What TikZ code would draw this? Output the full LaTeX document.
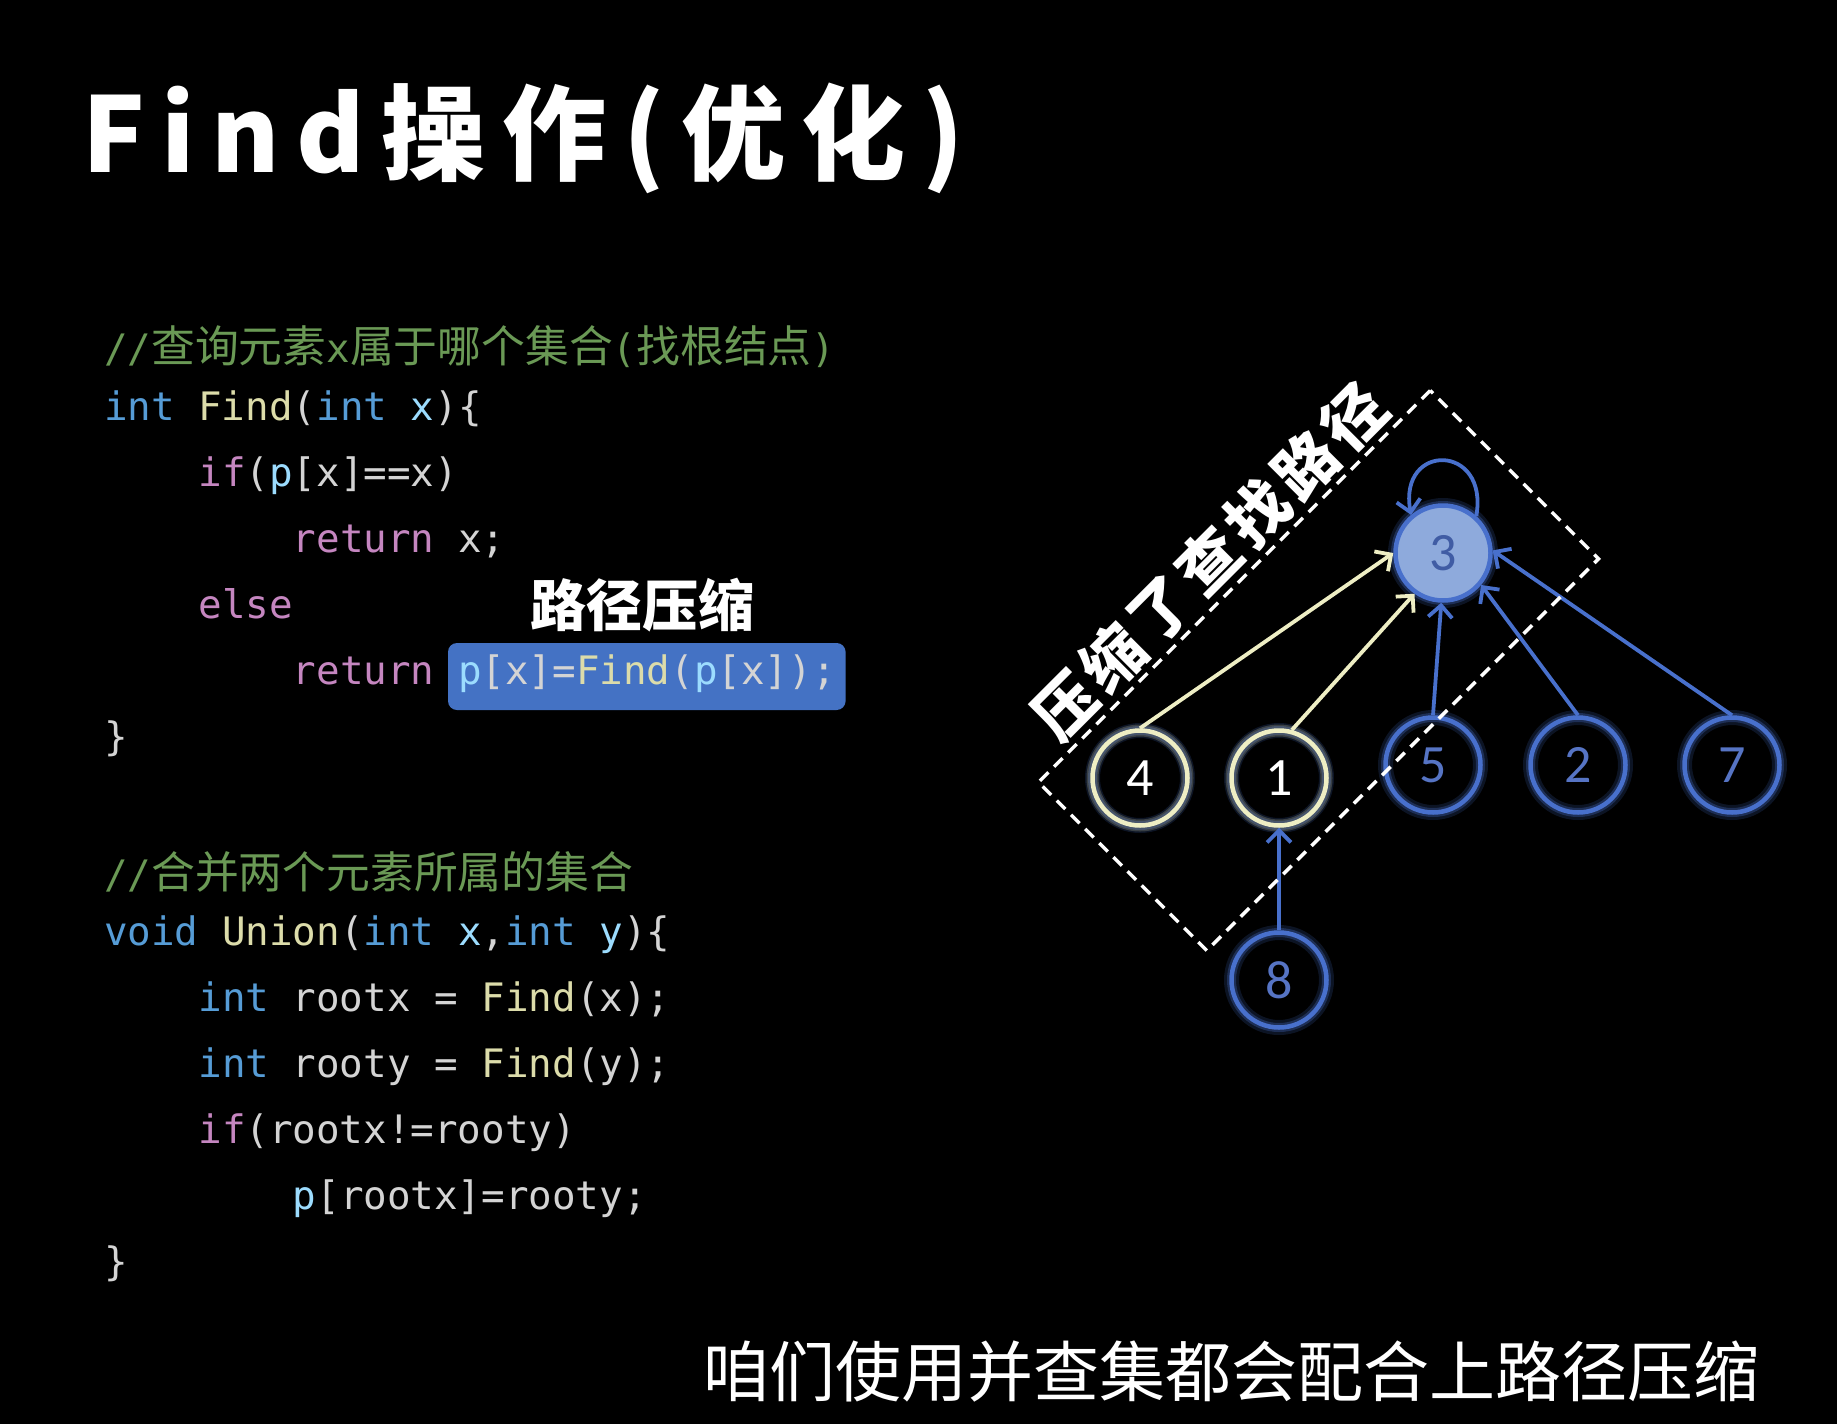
\documentclass[tikz,border=0pt]{standalone}
\usepackage{fontspec}
\usetikzlibrary{arrows.meta}
\newfontfamily\cjk{Noto Sans CJK SC}
\newfontfamily\codef{DejaVu Sans Mono}
\newfontfamily\numf{Carlito}
\definecolor{kw}{HTML}{569CD6}
\definecolor{fn}{HTML}{DCDCAA}
\definecolor{var}{HTML}{9CDCFE}
\definecolor{ctl}{HTML}{C586C0}
\definecolor{txt}{HTML}{D4D4D4}
\definecolor{cmt}{HTML}{6A9955}
\definecolor{hlfill}{RGB}{68,114,196}
\definecolor{nblue}{RGB}{72,112,204}
\definecolor{nbluetext}{RGB}{86,116,196}
\definecolor{nfill}{RGB}{142,170,220}
\definecolor{ntext}{RGB}{64,92,164}
\definecolor{cream}{RGB}{238,238,196}
\newcommand\K[1]{\textcolor{kw}{#1}}
\newcommand\F[1]{\textcolor{fn}{#1}}
\newcommand\V[1]{\textcolor{var}{#1}}
\newcommand\C[1]{\textcolor{ctl}{#1}}
\newcommand\ks{\hspace*{0.602em}}
\newcommand\cc[1]{{\cjk\fontsize{43.8}{50}\selectfont #1}}
\tikzset{
  codeline/.style={anchor=base west, inner sep=0pt, outer sep=0pt, text=txt,
    font=\codef\fontsize{39.2}{47}\selectfont},
  bnode/.style={circle, draw=nblue, line width=4.5pt, minimum size=95pt, inner sep=0pt,
    text=nbluetext, font=\numf\fontsize{54}{60}\selectfont,
    preaction={draw=nblue, line width=15pt, draw opacity=0.18},
    preaction={draw=nblue, line width=9pt, draw opacity=0.3}},
  cnode/.style={bnode, draw=cream, text=white,
    preaction={draw=cream, line width=12pt, draw opacity=0.2}},
  rnode/.style={bnode, fill=nfill, text=ntext},
  barrow/.style={draw=nblue, line width=3.8pt, -{Straight Barb[length=12pt,width=24pt]}},
  carrow/.style={barrow, draw=cream},
}
\begin{document}
\begin{tikzpicture}[x=1pt,y=-1pt]
\fill[black] (0,0) rectangle (1837,1424);
\useasboundingbox (0,0) rectangle (1837,1424);

% title
\node[anchor=base west, inner sep=0pt, text=white,
  font=\cjk\bfseries\fontsize{104}{120}\selectfont\addfontfeatures{LetterSpace=16}]
  (title) at (82,172) {Find操作(优化)};

% code block 1
\node[codeline] (c1) at (104,362) {\textcolor{cmt}{//\cc{查询元素}x\cc{属于哪个集合}(\cc{找根结点})}};
\node[codeline] (l2) at (104,420) {\K{int}\ks\F{Find}(\K{int}\ks\V{x})\{};
\node[codeline] (l3) at (198.4,486) {\C{if}(\V{p}[x]==x)};
\node[codeline] (l4) at (292.8,552) {\C{return}\ks x;};
\node[codeline] (l5) at (198.4,618) {\C{else}};
\node[codeline] (l6) at (292.8,684) {\C{return}};
\node[codeline, fill=hlfill, rounded corners=9pt, inner xsep=10pt, inner ysep=0pt,
  text height=41pt, text depth=26pt] (hl) at (448,684)
  {\V{p}[x]=\F{Find}(\V{p}[x]);};
\node[codeline] (l7) at (104,750) {\}};
\node[text=white, font=\cjk\bfseries\fontsize{56}{60}\selectfont] (pc) at (642,605) {路径压缩};

% code block 2
\node[codeline] (c2) at (104,888) {\textcolor{cmt}{//\cc{合并两个元素所属的集合}}};
\node[codeline] (m2) at (104,945) {\K{void}\ks\F{Union}(\K{int}\ks\V{x},\K{int}\ks\V{y})\{};
\node[codeline] (m3) at (198.4,1011) {\K{int}\ks rootx\ks=\ks\F{Find}(x);};
\node[codeline] (m4) at (198.4,1077) {\K{int}\ks rooty\ks=\ks\F{Find}(y);};
\node[codeline] (m5) at (198.4,1143) {\C{if}(rootx!=rooty)};
\node[codeline] (m6) at (292.8,1209) {\V{p}[rootx]=rooty;};
\node[codeline] (m7) at (104,1275) {\}};

% graph
\node[rnode] (n3) at (1443,553) {3};
\node[cnode] (n4) at (1140,778) {4};
\node[cnode] (n1) at (1279,778) {1};
\node[bnode] (n5) at (1433,765) {5};
\node[bnode] (n2) at (1578,765) {2};
\node[bnode] (n7) at (1732,765) {7};
\node[bnode] (n8) at (1279,980) {8};

\draw[carrow] (n4.north) -- (n3.west);
\draw[carrow] (n1.75) -- (n3.235);
\draw[barrow] (n5.north) -- (n3.268);
\draw[barrow] (n2.north) -- (n3.320);
\draw[barrow] (n7.north) -- (n3.3);
\draw[barrow] (n8.north) -- (n1.south);
\draw[barrow] (n3.48) to[out=80,in=100,looseness=2.9] (n3.130);

\node[draw=white, line width=3.5pt, dash pattern=on 12pt off 8pt, rotate=45,
  minimum width=554pt, minimum height=238pt, inner sep=0pt] (cbox) at (1318.5,670.5) {};
\node[text=white, rotate=45,
  font=\cjk\bfseries\fontsize{62}{66}\selectfont\addfontfeatures{LetterSpace=10}]
  (ctext) at (1209,561) {压缩了查找路径};

% bottom text
\node[text=white, font=\cjk\fontsize{66}{72}\selectfont] (bt) at (1231,1372)
  {咱们使用并查集都会配合上路径压缩};
\end{tikzpicture}
\end{document}
